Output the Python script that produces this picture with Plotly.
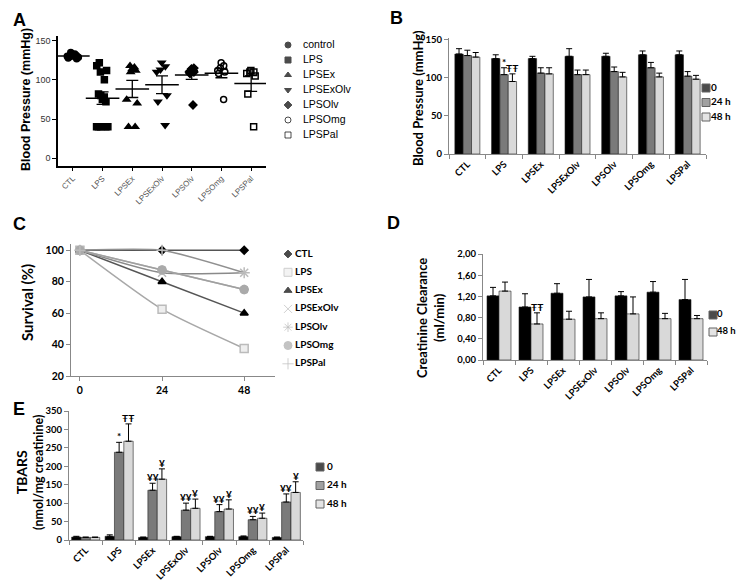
import numpy as np
import plotly.graph_objects as go

W, H = 744, 583

groups = ["CTL", "LPS", "LPSEx", "LPSExOlv", "LPSOlv", "LPSOmg", "LPSPal"]
key_a = ["control", "LPS", "LPSEx", "LPSExOlv", "LPSOlv", "LPSOmg", "LPSPal"]

# A: individual blood pressure readings (mmHg)
bp_ctl = [127, 128, 129, 130, 130, 131, 132, 133, 135]
bp_lps = [122, 118, 112, 110, 100, 82, 80, 78, 75, 72, 40, 40, 40, 40, 40]
bp_lpsex = [118, 116, 114, 112, 110, 75, 70, 40, 40]
bp_lpsexolv = [122, 117, 113, 110, 80, 72, 42]
bp_lpsolv = [115, 114, 112, 112, 110, 110, 108, 68]
bp_lpsomg = [122, 118, 115, 112, 110, 108, 75]
bp_lpspal = [112, 110, 110, 108, 105, 82, 40]

# B: blood pressure over time (mean, error)
bp0 = [131, 125, 125, 128, 128, 130, 130]
bp0_err = [7, 5, 3, 10, 4, 5, 5]
bp24 = [129, 104, 106, 104, 108, 113, 102]
bp24_err = [7, 9, 7, 6, 6, 7, 6]
bp48 = [127, 95, 105, 104, 101, 101, 98]
bp48_err = [6, 10, 8, 6, 6, 5, 5]

# C: survival (%)
hours = [0, 24, 48]
surv_ctl = [100, 100, 100]
surv_lps = [100, 62.5, 37.5]
surv_lpsex = [100, 80, 60]
surv_lpsexolv = [100, 85.7, 85.7]
surv_lpsolv = [100, 87.5, 75]
surv_lpsomg = [100, 87.5, 75]
surv_lpspal = [100, 100, 85.7]

# D: creatinine clearance (ml/min)
cc0 = [1.21, 1.00, 1.26, 1.19, 1.21, 1.28, 1.14]
cc0_err = [0.16, 0.25, 0.18, 0.33, 0.08, 0.20, 0.38]
cc48 = [1.30, 0.68, 0.77, 0.78, 0.87, 0.78, 0.78]
cc48_err = [0.17, 0.21, 0.15, 0.11, 0.32, 0.10, 0.06]

# E: TBARS (nmol/mg creatinine)
tb0 = [8, 10, 7, 9, 9, 9, 7]
tb0_err = [2, 4, 1, 1, 1, 2, 1]
tb24 = [7, 238, 135, 81, 77, 55, 103]
tb24_err = [1, 27, 19, 19, 19, 9, 22]
tb48 = [7, 268, 165, 86, 84, 59, 129]
tb48_err = [1, 47, 28, 25, 25, 14, 29]

# significance marks: (group, series index, text)
marks_b = [("LPS", 1, "*"), ("LPS", 2, "ŦŦ")]
marks_d = [("LPS", 1, "ŦŦ")]
marks_e = [("LPS", 1, "*"), ("LPS", 2, "ŦŦ")] + \
    [(g, 1, "¥¥") for g in groups[2:]] + [(g, 2, "¥") for g in groups[2:]]

XL = "Lato"
AR = "Liberation Sans"
BLACK, DARK, LIGHT = "#000000", "#7a7a7a", "#d9d9d9"


def fx(p):
    return p / W


def fy(p):
    return 1 - p / H


def ref(n):
    return ("x", "y") if n == 1 else (f"x{n}", f"y{n}")


def axname(n):
    return ("xaxis", "yaxis") if n == 1 else (f"xaxis{n}", f"yaxis{n}")


fig = go.Figure()
layout = {}
annotations = []


def set_axes(n, xbox, ybox, xkw, ykw):
    xa, ya = axname(n)
    xr, yr = ref(n)
    layout[xa] = dict(domain=[fx(xbox[0]), fx(xbox[1])], anchor=yr,
                      automargin=False, **xkw)
    layout[ya] = dict(domain=[fy(ybox[1]), fy(ybox[0])], anchor=xr,
                      automargin=False, **ykw)


def add_bars(n, series, width, cat_px, marks):
    xr, yr = ref(n)
    k = len(series)
    for i, (vals, errs, col) in enumerate(series):
        fig.add_trace(go.Bar(
            x=groups, y=vals, width=width, offset=width * (i - k / 2),
            marker=dict(color=col, line=dict(color="#222", width=0.6)),
            error_y=dict(type="data", symmetric=False, array=errs,
                         arrayminus=[0] * len(errs), color="black",
                         thickness=1, width=3),
            xaxis=xr, yaxis=yr, showlegend=False))
    for g, i, txt in marks:
        j = groups.index(g)
        vals, errs, _ = series[i]
        annotations.append(dict(
            x=g, y=vals[j] + errs[j], xref=xr, yref=yr, text=txt,
            showarrow=False, xanchor="center", yanchor="bottom", yshift=-2,
            xshift=(i - k / 2 + 0.5) * width * cat_px,
            font=dict(family=XL, size=10, color="black", weight="bold")))


def add_key(n, labels, symbols, colors, lines, sizes, x0, y0, step, dx, font):
    xr, yr = ref(n)
    m = len(labels)
    idx = list(range(m))
    fig.add_trace(go.Scatter(
        x=[0] * m, y=idx, mode="markers", cliponaxis=False,
        marker=dict(symbol=symbols, color=colors, size=sizes,
                    line=dict(color=lines, width=1)),
        xaxis=xr, yaxis=yr, showlegend=False, hoverinfo="skip"))
    fig.add_trace(go.Scatter(
        x=[dx] * m, y=idx, mode="text", text=labels, cliponaxis=False,
        textposition="middle right", textfont=font,
        xaxis=xr, yaxis=yr, showlegend=False, hoverinfo="skip"))
    set_axes(n, (x0, x0 + 30), (y0 - step / 2, y0 + step * (m - 0.5)),
             dict(range=[0, 30], visible=False),
             dict(range=[m - 0.5, -0.5], visible=False))


def title(text, x, y, size, family=XL):
    annotations.append(dict(
        x=fx(x), y=fy(y), xref="paper", yref="paper", text=text,
        textangle=-90, showarrow=False, xanchor="center", yanchor="middle",
        font=dict(family=family, size=size, color="black", weight="bold")))


def label(text, x, y):
    annotations.append(dict(
        x=fx(x), y=fy(y), xref="paper", yref="paper", text=text,
        showarrow=False, xanchor="center", yanchor="middle",
        font=dict(family=AR, size=18, color="black", weight="bold")))


tickx = dict(type="category", categoryarray=groups, range=[-0.5, 6.5],
             tickangle=-45, showline=True, linecolor="#888", linewidth=1,
             ticks="outside", tickson="boundaries", ticklen=4,
             tickcolor="#888",
             tickfont=dict(family=XL, size=9.5, color="black", weight="bold"))
ticky = dict(showline=True, linecolor="#888", linewidth=1, ticks="outside",
             ticklen=4, tickcolor="#888", showgrid=False, zeroline=False,
             tickfont=dict(family=XL, size=9.5, color="black", weight="bold"))

# ---- A: scatter with mean +/- SEM
a_sets = [bp_ctl, bp_lps, bp_lpsex, bp_lpsexolv, bp_lpsolv, bp_lpsomg,
          bp_lpspal]
a_symbols = ["circle", "square", "triangle-up", "triangle-down", "diamond",
             "circle-open", "square-open"]
for g, vals, sym in zip(groups, a_sets, a_symbols):
    fig.add_trace(go.Box(
        x=[g] * len(vals), y=vals, boxpoints="all", jitter=0.9, pointpos=0,
        width=0.55, fillcolor="rgba(0,0,0,0)", whiskerwidth=0,
        line=dict(width=0, color="rgba(0,0,0,0)"),
        marker=dict(symbol=sym, size=6, color="black",
                    line=dict(color="black", width=1.5)),
        xaxis="x", yaxis="y", showlegend=False))
means = [float(np.mean(v)) for v in a_sets]
sems = [float(np.std(v, ddof=1) / np.sqrt(len(v))) for v in a_sets]
fig.add_trace(go.Scatter(
    x=groups, y=means, mode="markers",
    marker=dict(symbol="line-ew-open", size=24, color="black",
                line=dict(color="black", width=1.5)),
    error_y=dict(type="data", array=sems, width=6, thickness=1.3,
                 color="black"),
    xaxis="x", yaxis="y", showlegend=False))
set_axes(1, (50, 258), (28, 158),
         dict(type="category", categoryarray=groups, range=[-0.5, 6.5],
              tickangle=-45, showline=True, linecolor="black", linewidth=1.5,
              ticks="outside", ticklen=3, tickcolor="black",
              tickfont=dict(family=AR, size=8, color="#555555")),
         dict(range=[-10, 156], tickvals=[0, 50, 100, 150], showline=True,
              linecolor="black", linewidth=1.5, ticks="outside", ticklen=4,
              tickcolor="black", showgrid=False, zeroline=False,
              tickfont=dict(family=AR, size=9, color="#333")))
add_key(6, key_a, a_symbols, ["black"] * 7, ["black"] * 7, [6] * 7,
        280, 37, 15, 15, dict(family=AR, size=10.5, color="black"))
title("Blood Pressure (mmHg)", 18, 92, 12.5, AR)
label("A", 11, 12)

# ---- B: blood pressure bars
add_bars(2, [(bp0, bp0_err, BLACK), (bp24, bp24_err, DARK),
             (bp48, bp48_err, LIGHT)], 0.227, 36.7, marks_b)
set_axes(2, (441, 698), (30, 146), tickx,
         dict(range=[0, 152], tickvals=[0, 50, 100, 150], **ticky))
add_key(7, ["0", "24 h", "48 h"], ["square"] * 3, [BLACK, DARK, LIGHT],
        ["#222"] * 3, [8] * 3, 698, 80, 14.5, 5,
        dict(family=XL, size=10, color="black", weight="bold"))
title("Blood Pressure (mmHg)", 410, 90, 13)
label("B", 388, 10)

# ---- C: survival lines
c_sets = [surv_ctl, surv_lps, surv_lpsex, surv_lpsexolv, surv_lpsolv,
          surv_lpsomg, surv_lpspal]
c_lines = ["#555555", "#a8a8a8", "#555555", "#8a8a8a", "#b5b5b5",
           "#a0a0a0", "#909090"]
c_symbols = ["diamond", "square", "triangle-up", "x-thin-open",
             "asterisk-open", "circle", "cross-thin-open"]
c_fill = ["black", "#eeeeee", "black", "#bbbbbb", "#bbbbbb", "#aaaaaa",
          "#bbbbbb"]
c_edge = ["black", "#bbbbbb", "black", "#bbbbbb", "#bbbbbb", "#aaaaaa",
          "#bbbbbb"]
c_size = [6, 8, 7, 8, 8, 8, 8]
for vals, lc, sym, fc, ec, sz in zip(c_sets, c_lines, c_symbols, c_fill,
                                     c_edge, c_size):
    fig.add_trace(go.Scatter(
        x=hours, y=vals, mode="lines+markers",
        line=dict(color=lc, width=1.5, shape="spline", smoothing=0.6),
        marker=dict(symbol=sym, size=sz, color=fc,
                    line=dict(color=ec, width=1.5)),
        xaxis="x3", yaxis="y3", showlegend=False))
set_axes(3, (63, 267), (236, 368),
         dict(range=[-2.6, 57], tickvals=hours, showline=True,
              linecolor="#888", ticks="outside", ticklen=4, tickcolor="#888",
              showgrid=False, zeroline=False,
              tickfont=dict(family=XL, size=10.5, color="black",
                            weight="bold")),
         dict(range=[20, 104], tickvals=[20, 40, 60, 80, 100],
              **{**ticky, "tickfont": dict(family=XL, size=10.5,
                                           color="black", weight="bold")}))
add_key(8, groups, c_symbols, c_fill, c_edge, c_size, 280, 246, 18.3, 7,
        dict(family=XL, size=10, color="black", weight="bold"))
title("Survival (%)", 19, 295, 15)
label("C", 11, 216)

# ---- D: creatinine clearance bars
add_bars(4, [(cc0, cc0_err, BLACK), (cc48, cc48_err, LIGHT)], 0.375, 32,
         marks_d)
set_axes(4, (475, 699), (246, 352), tickx,
         dict(range=[0, 2], tickvals=[0, 0.4, 0.8, 1.2, 1.6, 2.0],
              tickformat=".2f", **ticky))
add_key(9, ["0", "48 h"], ["square"] * 2, [BLACK, LIGHT], ["#222"] * 2,
        [8] * 2, 705, 307, 17, 4,
        dict(family=XL, size=9.5, color="black", weight="bold"))
title("Creatinine Clearance<br>(ml/min)", 422, 310, 13)
label("D", 385, 215)

# ---- E: TBARS bars
add_bars(5, [(tb0, tb0_err, BLACK), (tb24, tb24_err, DARK),
             (tb48, tb48_err, LIGHT)], 0.28, 33.4, marks_e)
set_axes(5, (61, 295), (403, 532), tickx,
         dict(range=[0, 350], tickvals=list(range(0, 351, 50)), **ticky))
add_key(10, ["0", "24 h", "48 h"], ["square"] * 3, [BLACK, DARK, LIGHT],
        ["#222"] * 3, [8] * 3, 312, 459, 18.5, 7,
        dict(family=XL, size=10, color="black", weight="bold"))
title("<span style='font-size:14px'>TBARS</span><br>(nmol/mg creatinine)",
      21, 465, 12.5)
label("E", 11, 401)

fig.update_layout(
    width=W, height=H, margin=dict(l=0, r=0, t=0, b=0),
    paper_bgcolor="white", plot_bgcolor="white",
    barmode="overlay", boxmode="overlay", separators=",.",
    showlegend=False, annotations=annotations, **layout)

fig.write_html("out.html")
